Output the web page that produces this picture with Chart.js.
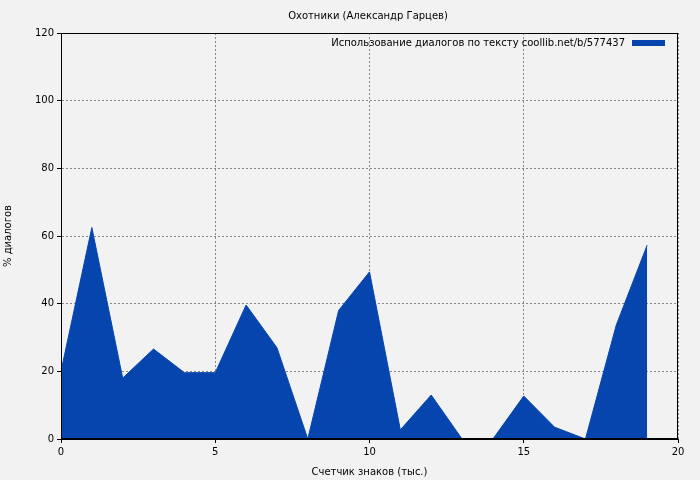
<!DOCTYPE html>
<html>
<head>
<meta charset="utf-8">
<script src="https://cdn.jsdelivr.net/npm/chart.js@4/dist/chart.umd.min.js"></script>
<style>
  html, body { margin: 0; padding: 0; background: #f2f2f2; }
  #wrap { width: 700px; height: 480px; }
</style>
</head>
<body>
<div id="wrap"><canvas id="c"></canvas></div>
<script>
const titleText = 'Охотники (Александр Гарцев)';
const seriesLabel = 'Использование диалогов по тексту coollib.net/b/577437';
const xValues = [0, 1, 2, 3, 4, 5, 6, 7, 8, 9, 10, 11, 12, 13, 14, 15, 16, 17, 18, 19];
const yValues = [20, 62.5, 18, 26.6, 19.6, 19.6, 39.6, 27, 0, 38, 49.4, 2.7, 13, 0, 0, 12.7, 3.5, 0, 33.7, 57.3];

const font = { family: 'DejaVu Sans', size: 10 };
const fill = '#0645ad';

const overlay = {
    id: 'overlay',
    afterDraw(chart) {
        const { ctx, chartArea } = chart;
        ctx.save();
        ctx.fillStyle = '#000';
        ctx.font = '10px DejaVu Sans';
        ctx.textAlign = 'center';
        ctx.textBaseline = 'middle';
        ctx.fillText(titleText, 368, 16);
        ctx.textAlign = 'right';
        ctx.fillText(seriesLabel, chartArea.right - 53, 43);
        ctx.fillStyle = fill;
        ctx.fillRect(chartArea.right - 46, 40, 33, 6);
        ctx.strokeStyle = '#000';
        ctx.lineWidth = 1;
        ctx.strokeRect(chartArea.left + 0.5, chartArea.top + 0.5, chartArea.width - 1, chartArea.height - 1);
        ctx.restore();
    }
};

new Chart(document.getElementById('c'), {
    type: 'line',
    data: {
        datasets: [{
            label: seriesLabel,
            data: xValues.map((x, i) => ({ x, y: yValues[i] })),
            fill: 'origin',
            backgroundColor: fill,
            borderColor: fill,
            borderWidth: 1,
            pointRadius: 0,
            tension: 0,
        }],
    },
    options: {
        responsive: true,
        maintainAspectRatio: false,
        animation: false,
        layout: { padding: { top: 33, right: 22, left: 0, bottom: 0 } },
        plugins: { legend: { display: false }, title: { display: false }, tooltip: { enabled: false } },
        scales: {
            x: {
                type: 'linear', min: 0, max: 20,
                ticks: { stepSize: 5, color: '#000', font, maxRotation: 0 },
                grid: { color: '#888', borderDash: [2, 2], tickColor: '#000', tickLength: 4 },
                border: { display: true, color: '#000', dash: [2, 2] },
                title: { display: true, text: 'Счетчик знаков (тыс.)', color: '#000', font, padding: 2 },
                afterFit(s) { s.height = 41; },
            },
            y: {
                min: 0, max: 120,
                ticks: { stepSize: 20, color: '#000', font },
                grid: { color: '#888', tickColor: '#000', tickLength: 4 },
                border: { color: '#000', dash: [2, 2] },
                title: { display: true, text: '% диалогов', color: '#000', font, padding: 2 },
                afterFit(s) { s.width = 61; },
            },
        },
    },
    plugins: [overlay],
});
</script>
</body>
</html>
